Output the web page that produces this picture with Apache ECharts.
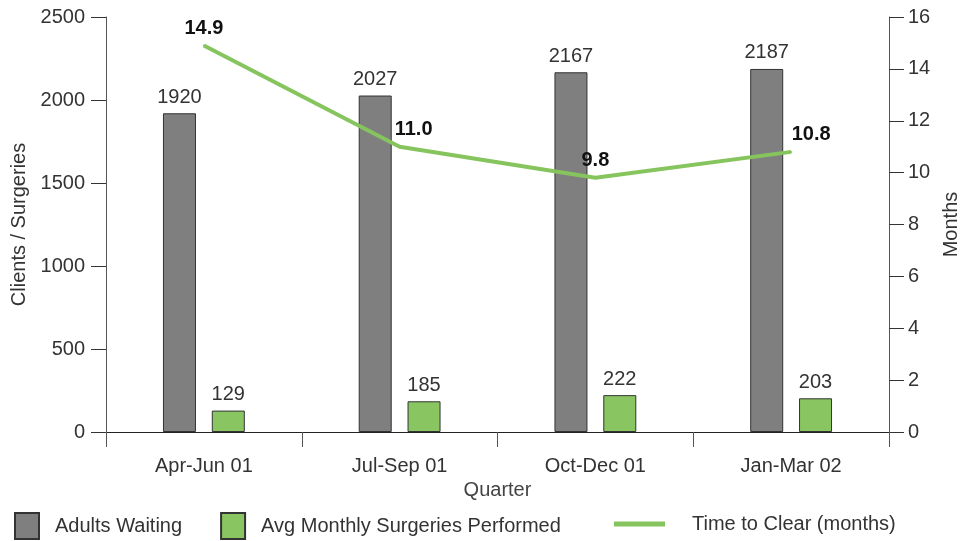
<!DOCTYPE html>
<html>
<head>
<meta charset="utf-8">
<script src="https://cdn.jsdelivr.net/npm/echarts@6/dist/echarts.min.js"></script>
<style>
  html, body { margin: 0; padding: 0; background: #fff; }
  #chart { width: 970px; height: 541px; }
</style>
</head>
<body>
<div id="chart"></div>
<script>
// Quarterly waiting list vs. surgeries performed
const quarters = ['Apr-Jun 01', 'Jul-Sep 01', 'Oct-Dec 01', 'Jan-Mar 02'];
const adultsWaiting = [1920, 2027, 2167, 2187];
const avgMonthlySurgeries = [129, 185, 222, 203];
const timeToClear = [14.9, 11.0, 9.8, 10.8];
const leftTicks = [0, 500, 1000, 1500, 2000, 2500];
const rightTicks = [0, 2, 4, 6, 8, 10, 12, 14, 16];

// horizontal nudges for the line's value labels
const lineLabelShift = [0, 14, 0, 20];

const FONT = 'Liberation Sans, Arial, sans-serif';
const TXT = '#333333';
const GRAY = '#7f7f7f';
const GREEN = '#89c662';
const LINE_GREEN = '#86c45e';

const chart = echarts.init(document.getElementById('chart'));

chart.setOption({
  animation: false,
  textStyle: { fontFamily: FONT, color: TXT },
  grid: { left: 106, right: 81, top: 17, bottom: 109 },
  legend: [
    {
      data: ['Adults Waiting', 'Avg Monthly Surgeries Performed'],
      left: 14, top: 512, padding: 0,
      itemWidth: 24, itemHeight: 26, itemGap: 38,
      icon: 'rect',
      textStyle: { fontFamily: FONT, fontSize: 20, color: TXT, padding: [0, 0, 0, 11] }
    },
    {
      data: ['Time to Clear (months)'],
      left: 614, top: 514, padding: 0,
      itemWidth: 51, itemHeight: 5,
      icon: 'rect',
      textStyle: { fontFamily: FONT, fontSize: 20, color: TXT, padding: [0, 0, 0, 22] }
    }
  ],
  xAxis: {
    type: 'category',
    data: quarters,
    name: 'Quarter',
    nameLocation: 'middle',
    nameGap: 45,
    nameTextStyle: { fontFamily: FONT, fontSize: 20, color: '#444' },
    axisLine: { lineStyle: { color: '#222', width: 1 } },
    axisTick: { show: true, length: 15, lineStyle: { color: '#555' } },
    axisLabel: { fontFamily: FONT, fontSize: 20, color: TXT, margin: 24 }
  },
  yAxis: [
    {
      type: 'value',
      min: 0, max: 2500, interval: 500,
      name: 'Clients / Surgeries',
      nameLocation: 'middle',
      nameGap: 74,
      nameTextStyle: { fontFamily: FONT, fontSize: 20, color: TXT },
      axisLine: { show: true, lineStyle: { color: '#555' } },
      axisTick: { show: true, length: 15, lineStyle: { color: '#333' } },
      axisLabel: {
        fontFamily: FONT, fontSize: 20, color: TXT, margin: 21,
        formatter: v => leftTicks.includes(v) ? String(v) : ''
      },
      splitLine: { show: false }
    },
    {
      type: 'value',
      min: 0, max: 16, interval: 2,
      name: 'Months',
      nameLocation: 'middle',
      nameGap: 52,
      nameTextStyle: { fontFamily: FONT, fontSize: 20, color: TXT },
      axisLine: { show: true, lineStyle: { color: '#555' } },
      axisTick: { show: true, length: 15, lineStyle: { color: '#333' } },
      axisLabel: {
        fontFamily: FONT, fontSize: 20, color: TXT, margin: 19,
        formatter: v => rightTicks.includes(v) ? String(v) : ''
      },
      splitLine: { show: false }
    }
  ],
  series: [
    {
      name: 'Adults Waiting',
      type: 'bar',
      data: adultsWaiting,
      barWidth: 33,
      barGap: '48%',
      itemStyle: { color: GRAY, borderColor: '#333', borderWidth: 1 },
      label: { show: true, position: 'top', distance: 6, fontFamily: FONT, fontSize: 20, color: TXT }
    },
    {
      name: 'Avg Monthly Surgeries Performed',
      type: 'bar',
      data: avgMonthlySurgeries,
      barWidth: 33,
      itemStyle: { color: GREEN, borderColor: '#333', borderWidth: 1 },
      label: { show: true, position: 'top', distance: 6, fontFamily: FONT, fontSize: 20, color: TXT }
    },
    {
      name: 'Time to Clear (months)',
      type: 'line',
      yAxisIndex: 1,
      data: timeToClear.map((v, i) => ({
        value: v,
        label: { offset: [lineLabelShift[i], 0] }
      })),
      symbol: 'circle',
      symbolSize: 2,
      showSymbol: true,
      lineStyle: { color: LINE_GREEN, width: 4 },
      itemStyle: { color: LINE_GREEN },
      z: 5,
      label: {
        show: true, position: 'top', distance: 6,
        fontFamily: FONT, fontSize: 20, fontWeight: 'bold', color: '#111',
        formatter: p => p.value.toFixed(1)
      }
    }
  ]
});
</script>
</body>
</html>
